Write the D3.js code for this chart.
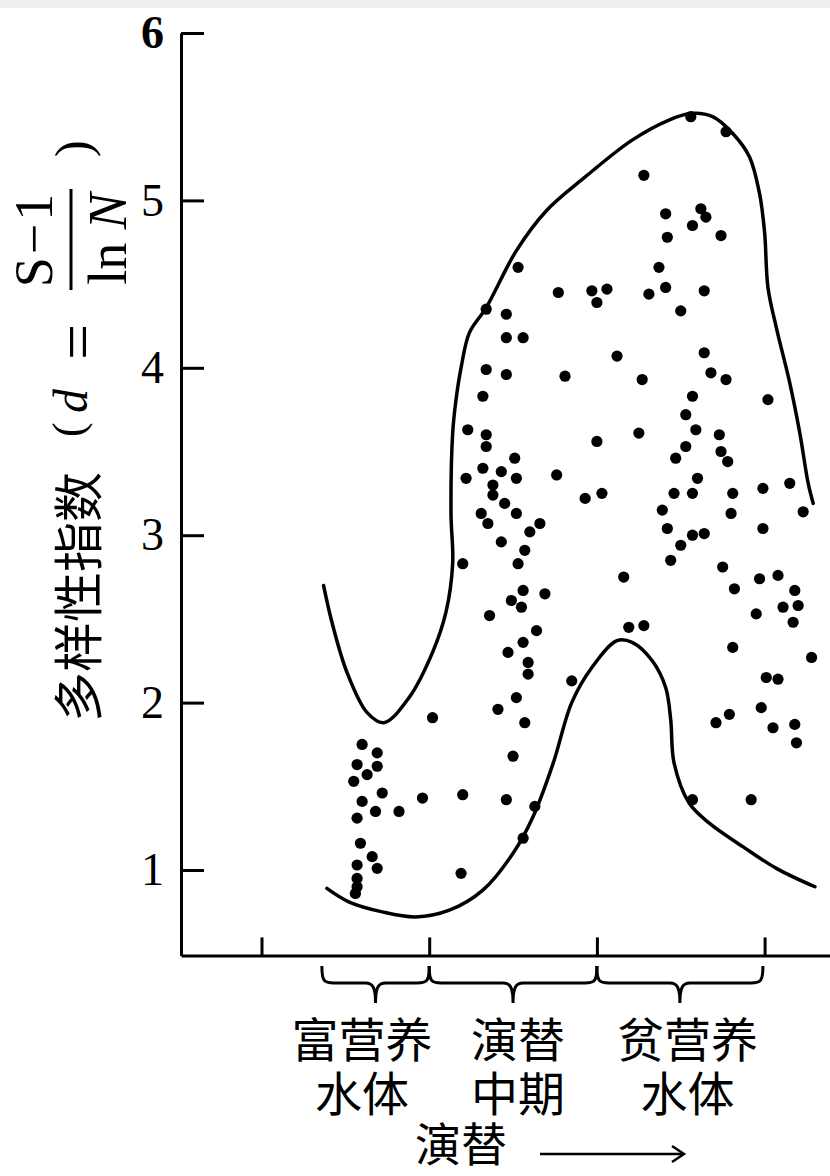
<!DOCTYPE html>
<html>
<head>
<meta charset="utf-8">
<script src="https://cdn.jsdelivr.net/npm/d3@7"></script>
<style>
  html, body { margin: 0; padding: 0; background: #fff; }
  svg { display: block; }
</style>
</head>
<body>
<svg id="chart" width="830" height="1176"></svg>
<script>
// y axis ticks and the three stages along the succession axis
const yTicks = [1, 2, 3, 4, 5, 6];
const xTicks = [1, 2, 3, 4];
const stageNames = [['富营养', '水体'], ['演替', '中期'], ['贫营养', '水体']];
const stageSpans = [[1.36, 2], [2, 3], [3, 3.99]];
const stageLabelX = [1.60, 2.53, 3.54];

// sample points: [position along succession, diversity index d]
const samples = [
  [2.53,4.60],[2.77,4.45],[2.34,4.35],[2.46,4.32],[2.46,4.18],[2.56,4.18],[2.34,3.99],[2.46,3.96],[2.81,3.95],[2.32,3.83],
  [2.23,3.63],[2.34,3.60],[2.34,3.53],[2.51,3.46],[2.32,3.40],[2.22,3.34],[2.43,3.38],[2.52,3.34],[2.76,3.36],[2.38,3.30],
  [2.38,3.24],[3.56,5.50],[3.77,5.41],[3.28,5.15],[3.41,4.92],[3.62,4.95],[3.65,4.90],[3.57,4.85],[3.74,4.79],[3.42,4.78],
  [3.37,4.60],[2.97,4.46],[3.00,4.39],[3.06,4.47],[3.31,4.44],[3.41,4.48],[3.64,4.46],[3.50,4.34],[3.12,4.07],[3.64,4.09],
  [3.68,3.97],[3.77,3.93],[3.27,3.93],[4.02,3.81],[3.57,3.83],[3.53,3.72],[3.59,3.63],[3.73,3.60],[3.25,3.61],[3.00,3.56],
  [3.53,3.53],[3.47,3.46],[3.74,3.50],[3.78,3.44],[3.60,3.34],[3.46,3.25],[3.57,3.25],[3.81,3.25],[3.99,3.28],[4.15,3.31],
  [3.03,3.25],[2.93,3.22],[4.23,3.14],[3.39,3.15],[3.80,3.13],[3.42,3.04],[3.57,3.00],[3.64,3.01],[3.50,2.94],[3.99,3.04],
  [3.44,2.85],[3.75,2.81],[3.16,2.75],[3.82,2.68],[3.97,2.74],[4.08,2.76],[4.18,2.67],[4.11,2.57],[4.20,2.58],[3.95,2.53],
  [4.17,2.48],[3.19,2.45],[3.28,2.46],[3.81,2.33],[2.85,2.13],[4.28,2.27],[4.01,2.15],[4.08,2.14],[3.98,1.97],[3.79,1.93],
  [3.71,1.88],[4.05,1.85],[4.18,1.87],[4.19,1.76],[3.57,1.42],[3.92,1.42],[2.45,3.19],[2.52,3.13],[2.31,3.13],[2.35,3.07],
  [2.66,3.07],[2.60,3.02],[2.43,2.96],[2.57,2.91],[2.53,2.83],[2.20,2.83],[2.56,2.67],[2.49,2.61],[2.55,2.57],[2.69,2.65],
  [2.36,2.52],[2.64,2.43],[2.56,2.36],[2.47,2.30],[2.59,2.24],[2.59,2.17],[2.52,2.03],[2.41,1.96],[2.57,1.88],[2.02,1.91],
  [2.50,1.68],[1.60,1.75],[1.69,1.70],[1.57,1.63],[1.69,1.62],[1.63,1.57],[1.55,1.53],[1.72,1.46],[1.60,1.41],[1.68,1.35],
  [1.82,1.35],[1.96,1.43],[2.20,1.45],[2.46,1.42],[2.63,1.38],[1.57,1.31],[1.59,1.16],[1.66,1.08],[1.69,1.01],[1.57,1.03],
  [1.57,0.95],[1.57,0.90],[1.56,0.86],[2.19,0.98],[2.56,1.19]
];

// hand drawn envelope round the points
const upperEdge = [
  [1.37,2.70],[1.42,2.48],[1.51,2.18],[1.63,1.94],[1.73,1.88],[1.88,2.03],[2.02,2.30],[2.10,2.54],
  [2.14,2.83],[2.13,3.13],[2.14,3.61],[2.16,3.81],[2.19,4.00],[2.24,4.21],[2.34,4.36],[2.52,4.70],
  [2.70,4.94],[2.93,5.14],[3.21,5.36],[3.43,5.48],[3.57,5.52],[3.69,5.50],[3.81,5.40],[3.91,5.26],
  [3.97,5.04],[4.00,4.81],[4.02,4.48],[4.07,4.24],[4.15,3.91],[4.21,3.61],[4.26,3.31],[4.29,3.19]
];
const lowerEdge = [
  [1.39,0.89],[1.52,0.81],[1.72,0.75],[1.92,0.72],[2.12,0.76],[2.32,0.88],[2.50,1.10],[2.62,1.32],
  [2.74,1.64],[2.85,2.00],[2.97,2.21],[3.12,2.37],[3.21,2.36],[3.33,2.25],[3.41,2.09],[3.44,1.90],
  [3.46,1.64],[3.55,1.40],[3.67,1.28],[3.87,1.14],[4.07,1.01],[4.30,0.90]
];

const serif = '"Liberation Serif", "Times New Roman", serif';
const cjk = '"Noto Sans CJK SC", sans-serif';

const svg = d3.select('#chart');

// faint grey strip along the top edge
svg.append('rect').attr('x', 0).attr('y', 0).attr('width', 830).attr('height', 8).attr('fill', '#efefef');

const x = d3.scaleLinear().domain([0.52, 4.39]).range([181, 830]);
const y = d3.scaleLinear().domain([0.49, 6]).range([955.4, 33]);

// y axis, ticks pointing inwards
const yAxis = svg.append('g')
  .attr('transform', 'translate(' + x(0.52) + ',0)')
  .call(d3.axisLeft(y).tickValues(yTicks).tickFormat(d3.format('d'))
    .tickSize(-23).tickSizeOuter(0).tickPadding(17));
yAxis.select('.domain').attr('stroke', '#000').attr('stroke-width', 3);
yAxis.selectAll('.tick line').attr('stroke', '#000').attr('stroke-width', 3);
yAxis.selectAll('.tick text')
  .attr('font-family', serif)
  .attr('font-size', 46)
  .attr('fill', '#000')
  .attr('font-weight', d => d === 6 ? 'bold' : 'normal');

// x axis, unlabelled ticks pointing up
const xAxis = svg.append('g')
  .attr('transform', 'translate(0,' + y(0.49) + ')')
  .call(d3.axisBottom(x).tickValues(xTicks).tickSize(-18).tickSizeOuter(0).tickFormat(''));
xAxis.select('.domain').attr('stroke', '#000').attr('stroke-width', 3);
xAxis.selectAll('.tick line').attr('stroke', '#000').attr('stroke-width', 3);

// envelope curves
const line = d3.line()
  .x(d => x(d[0]))
  .y(d => y(d[1]))
  .curve(d3.curveCatmullRom.alpha(0.5));

svg.selectAll('path.edge')
  .data([upperEdge, lowerEdge])
  .enter()
  .append('path')
  .attr('class', 'edge')
  .attr('d', line)
  .attr('fill', 'none')
  .attr('stroke', '#000')
  .attr('stroke-width', 3.5)
  .attr('stroke-linecap', 'round');

// sample dots
svg.selectAll('circle.sample')
  .data(samples)
  .enter()
  .append('circle')
  .attr('class', 'sample')
  .attr('cx', d => x(d[0]))
  .attr('cy', d => y(d[1]))
  .attr('r', 5.6)
  .attr('fill', '#000');

// braces under the x axis
function bracePath(x0, x1) {
  const top = 966, mid = 983, tip = 1003;
  const xm = (x0 + x1) / 2;
  return 'M' + x0 + ',' + top +
    ' C' + x0 + ',' + (mid - 2) + ' ' + (x0 + 2) + ',' + mid + ' ' + (x0 + 12) + ',' + mid +
    ' L' + (xm - 10) + ',' + mid +
    ' C' + (xm - 3) + ',' + mid + ' ' + xm + ',' + (mid + 4) + ' ' + xm + ',' + tip +
    ' C' + xm + ',' + (mid + 4) + ' ' + (xm + 3) + ',' + mid + ' ' + (xm + 10) + ',' + mid +
    ' L' + (x1 - 12) + ',' + mid +
    ' C' + (x1 - 2) + ',' + mid + ' ' + x1 + ',' + (mid - 2) + ' ' + x1 + ',' + top;
}

svg.selectAll('path.brace')
  .data(stageSpans)
  .enter()
  .append('path')
  .attr('class', 'brace')
  .attr('d', d => bracePath(x(d[0]), x(d[1])))
  .attr('fill', 'none')
  .attr('stroke', '#000')
  .attr('stroke-width', 3);

// stage labels
const stage = svg.selectAll('g.stage')
  .data(stageNames)
  .enter()
  .append('g')
  .attr('class', 'stage');

stage.selectAll('text')
  .data((d, i) => d.map(t => ({ t: t, i: i })))
  .enter()
  .append('text')
  .attr('x', d => x(stageLabelX[d.i]))
  .attr('y', (d, j) => 1057 + j * 54)
  .attr('text-anchor', 'middle')
  .attr('font-family', cjk)
  .attr('font-size', 47)
  .attr('fill', '#000')
  .text(d => d.t);

// x title with arrow
svg.append('text')
  .attr('x', 461)
  .attr('y', 1161)
  .attr('text-anchor', 'middle')
  .attr('font-family', cjk)
  .attr('font-size', 46)
  .text('演替');
svg.append('line')
  .attr('x1', 540).attr('x2', 683)
  .attr('y1', 1154).attr('y2', 1154)
  .attr('stroke', '#000').attr('stroke-width', 2.5);
svg.append('path')
  .attr('d', 'M672,1146 L684,1154 L672,1162')
  .attr('fill', 'none')
  .attr('stroke', '#000')
  .attr('stroke-width', 2.5);

// y title, rotated, with the formula d = (S-1)/ln N
const yt = svg.append('g').attr('transform', 'translate(97,722) rotate(-90)');
yt.append('text')
  .attr('x', 0).attr('y', 0)
  .attr('font-family', cjk).attr('font-size', 50)
  .text('多样性指数');
yt.append('text')
  .attr('x', 285).attr('y', -14)
  .attr('font-family', serif).attr('font-size', 44)
  .text('(');
yt.append('text')
  .attr('x', 309).attr('y', -10)
  .attr('font-family', serif).attr('font-size', 48).attr('font-style', 'italic')
  .text('d');
yt.append('text')
  .attr('x', 362).attr('y', 2)
  .attr('font-family', serif).attr('font-size', 64)
  .text('=');
yt.append('line')
  .attr('x1', 432).attr('x2', 533)
  .attr('y1', -26).attr('y2', -26)
  .attr('stroke', '#000').attr('stroke-width', 3);
yt.append('text')
  .attr('x', 483).attr('y', -45)
  .attr('text-anchor', 'middle')
  .attr('font-family', serif).attr('font-size', 54)
  .attr('letter-spacing', 3)
  .text('S−1');
const den = yt.append('text')
  .attr('x', 483).attr('y', 29)
  .attr('text-anchor', 'middle')
  .attr('font-family', serif).attr('font-size', 54);
den.append('tspan').text('ln ');
den.append('tspan').attr('font-style', 'italic').text('N');
yt.append('text')
  .attr('x', 565).attr('y', -7)
  .attr('font-family', serif).attr('font-size', 50)
  .text(')');
</script>
</body>
</html>
